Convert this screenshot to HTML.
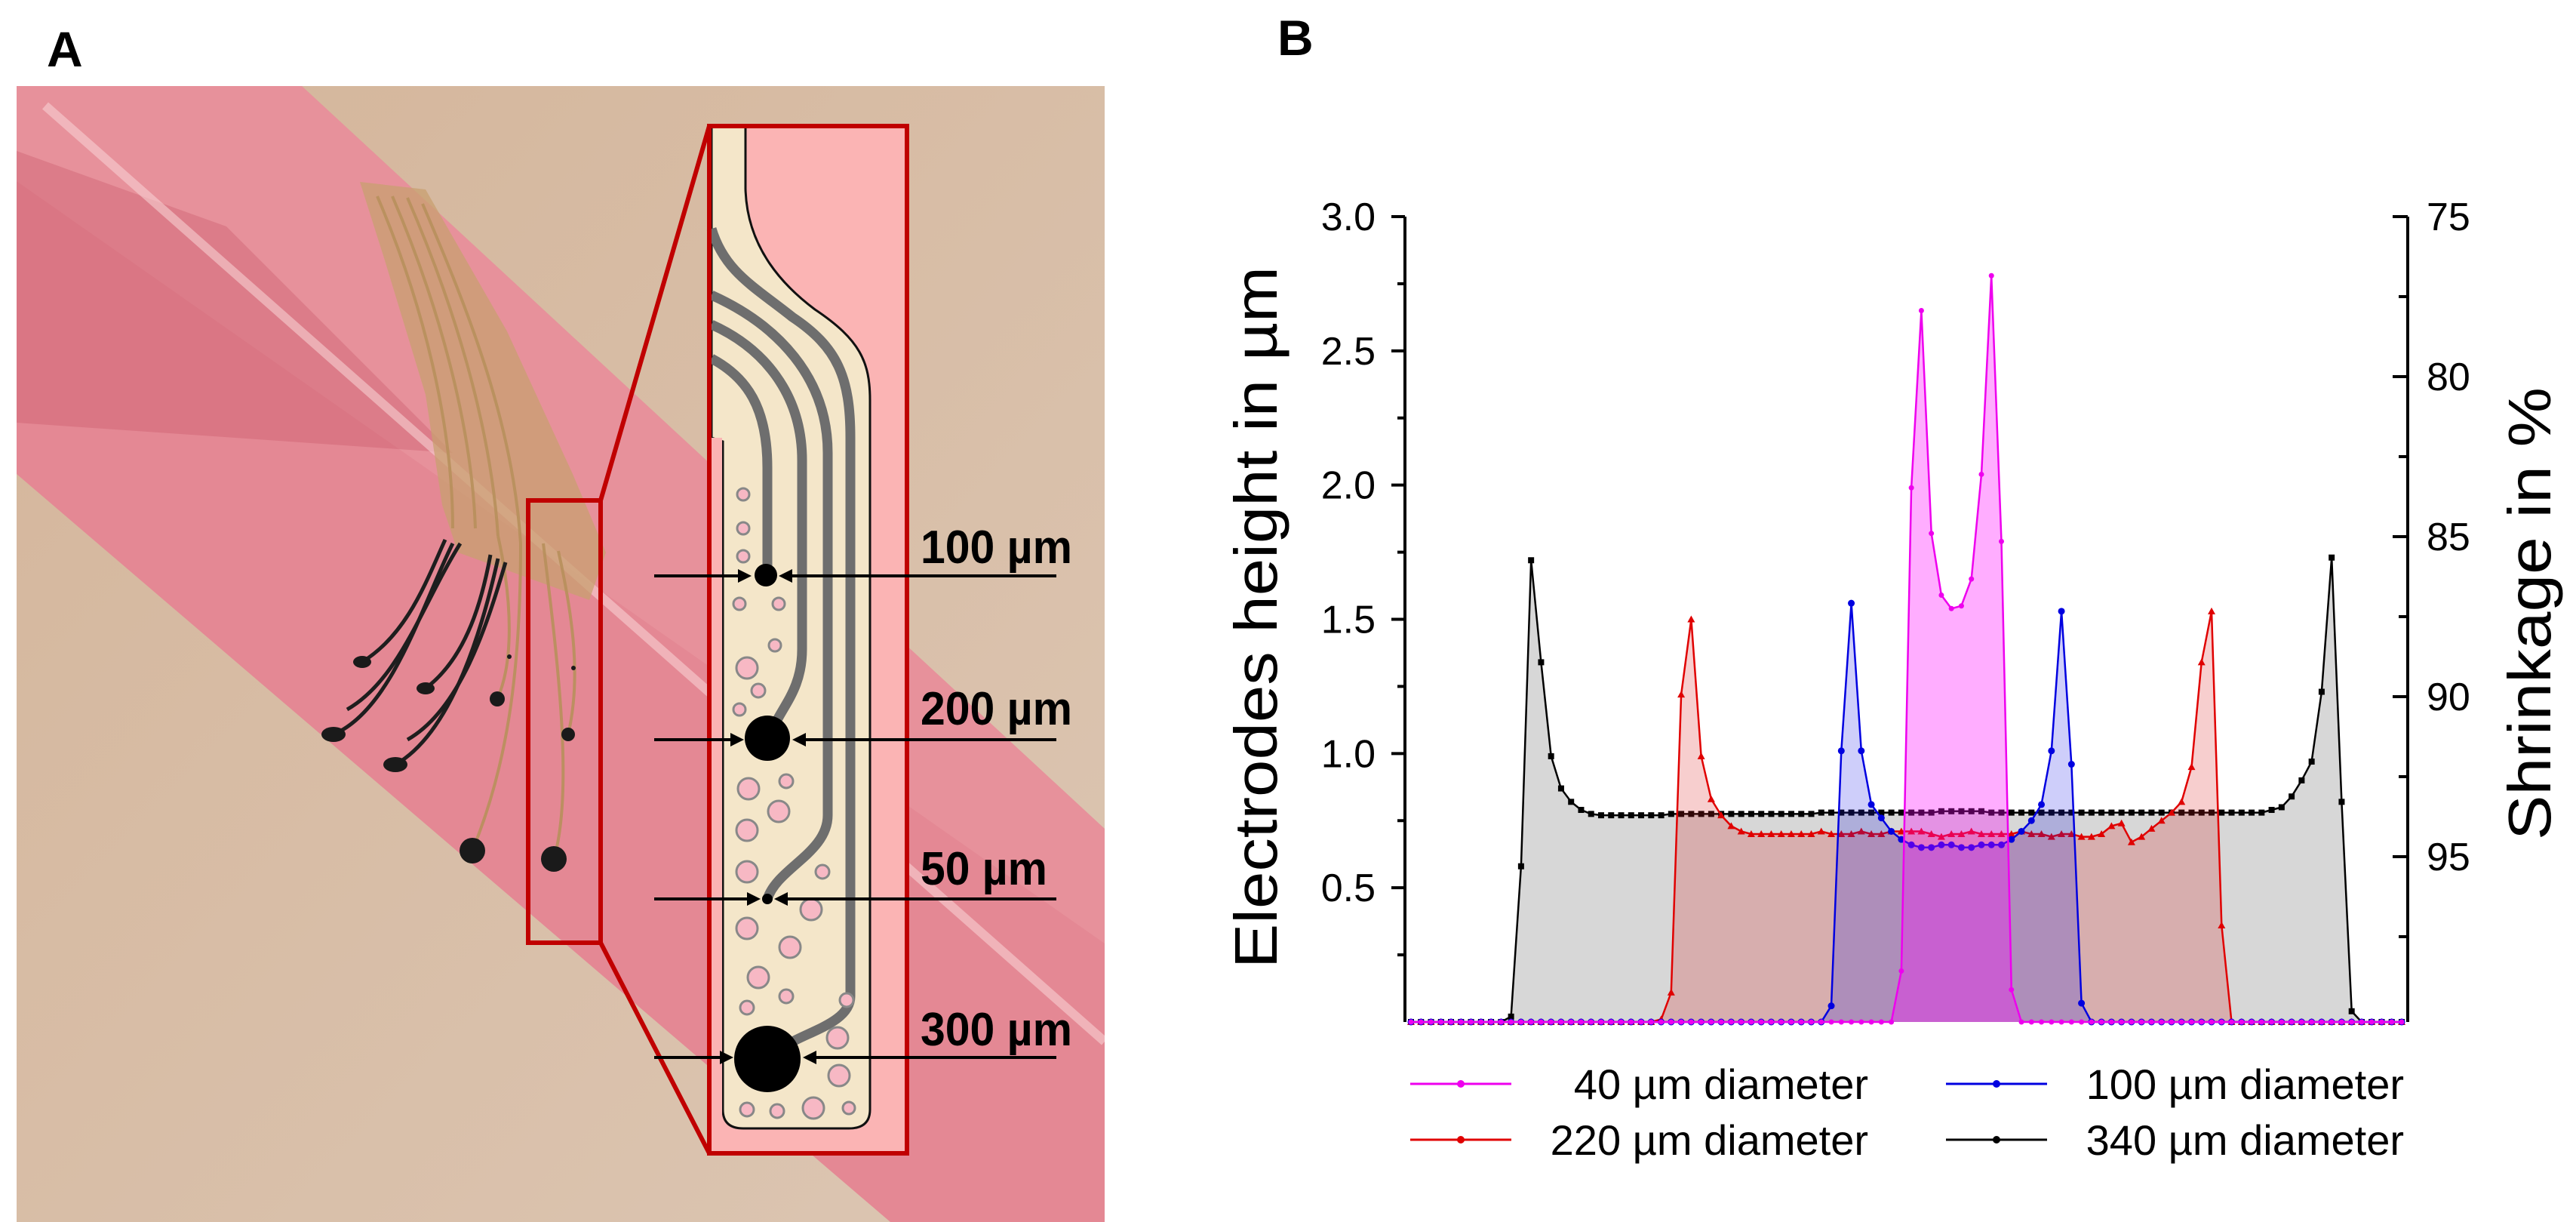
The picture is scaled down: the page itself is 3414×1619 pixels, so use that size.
<!DOCTYPE html>
<html><head><meta charset="utf-8">
<style>
html,body{margin:0;padding:0;background:#fff;}
svg{display:block;}
text{font-family:"Liberation Sans",Arial,sans-serif;}
</style></head>
<body>
<svg id="fig" width="3414" height="1619" viewBox="0 0 3414 1619" xmlns="http://www.w3.org/2000/svg">
<rect x="0" y="0" width="3414" height="1619" fill="#fff"/>
<!-- Panel A -->
<g>
  <text x="62" y="88" font-size="66" font-weight="bold">A</text>
  <defs>
    <linearGradient id="bg" x1="0" y1="0" x2="1" y2="1">
      <stop offset="0" stop-color="#d4b59a"/><stop offset="1" stop-color="#dcc6b3"/>
    </linearGradient>
    <linearGradient id="tube" x1="0" y1="0" x2="0.6" y2="-0.3" gradientUnits="objectBoundingBox">
      <stop offset="0" stop-color="#d4687a"/><stop offset="0.5" stop-color="#e68c98"/>
      <stop offset="1" stop-color="#efb0b2"/>
    </linearGradient>
    <clipPath id="photoclip"><rect x="22" y="114" width="1442" height="1505"/></clipPath>
  </defs>
  <g clip-path="url(#photoclip)">
    <rect x="22" y="114" width="1442" height="1505" fill="url(#bg)"/>
    <polygon points="22,114 400,114 1464,1098 1464,1619 1180,1619 22,628" fill="#e48894"/>
    <polygon points="22,114 400,114 1464,1098 1464,1250 22,240" fill="#eea2aa" opacity="0.35"/>
    <polygon points="22,200 300,300 600,600 22,560" fill="#c85568" opacity="0.35"/>
    <path d="M60,140 L1464,1380" stroke="#f8d0d2" stroke-width="12" opacity="0.6"/>
    <!-- ribbon -->
    <polygon points="477,241 564,251 672,439 759,628 803,732 781,795 607,732 586,669 564,523 510,345" fill="#c8a070" opacity="0.75"/>
    <g stroke="#b8905c" stroke-width="4" fill="none" opacity="0.9">
      <path d="M500,260 C560,400 600,560 600,700"/>
      <path d="M520,260 C580,400 625,560 630,700"/>
      <path d="M540,262 C600,400 650,560 660,710"/>
      <path d="M560,270 C620,410 680,560 690,720"/>
      <path d="M690,720 C690,900 670,1020 626,1127"/>
      <path d="M720,720 C740,880 760,1050 734,1138"/>
      <path d="M660,710 C680,800 680,880 659,926"/>
      <path d="M740,730 C760,820 770,900 753,973"/>
    </g>
    <g stroke="#1e1e1e" stroke-width="5" fill="none">
      <path d="M442,973 C520,940 560,800 600,720"/>
      <path d="M480,877 C540,840 565,770 590,715"/>
      <path d="M460,940 C530,900 560,800 610,720"/>
      <path d="M524,1013 C600,970 640,830 660,740"/>
      <path d="M564,912 C620,870 640,790 650,735"/>
      <path d="M540,980 C610,940 645,830 670,745"/>
    </g>
    <g fill="#1a1a1a">
      <ellipse cx="442" cy="973" rx="16" ry="10"/><ellipse cx="524" cy="1013" rx="16" ry="10"/>
      <ellipse cx="480" cy="877" rx="12" ry="8"/><ellipse cx="564" cy="912" rx="12" ry="8"/>
      <circle cx="659" cy="926" r="10"/><circle cx="753" cy="973" r="9"/>
      <circle cx="626" cy="1127" r="17"/><circle cx="734" cy="1138" r="17"/>
      <circle cx="675" cy="870" r="3"/><circle cx="760" cy="885" r="3"/>
    </g>
  </g>
  <!-- zoom box and connectors -->
  <rect x="700" y="663" width="96" height="586" fill="none" stroke="#c00000" stroke-width="6"/>
  <path d="M796,663 L940,167 M796,1249 L940,1528" stroke="#c00000" stroke-width="6" fill="none"/>
  <g>
    <rect x="940" y="167" width="262" height="1361" fill="#fbb4b4"/>
    <path d="M943,167 L988,167 L988,250 C990,330 1040,380 1080,410 C1140,450 1153,480 1153,530 L1153,1470 Q1153,1495 1125,1495 L985,1495 Q958,1495 958,1470 L958,585 L943,580 Z" fill="#f4e6c9" stroke="#111" stroke-width="3"/>
    <rect x="941" y="580" width="16" height="948" fill="#fbb4b4"/>
    <g stroke="#6e6e6e" stroke-width="13" fill="none">
      <path d="M943,475 C990,500 1017,540 1017,620 L1017,760"/>
      <path d="M943,430 C1010,460 1063,520 1063,610 L1063,860 C1063,920 1030,940 1020,978"/>
      <path d="M943,391 C1030,430 1097,500 1097,600 L1097,1080 C1097,1130 1030,1150 1017,1191"/>
      <path d="M943,303 C960,360 1000,380 1050,420 C1110,460 1127,500 1127,580 L1127,1320 C1127,1360 1050,1370 1030,1395"/>
    </g>
    <g fill="#f7b8c4" stroke="#888" stroke-width="3">
      <circle cx="985" cy="655" r="8"/><circle cx="985" cy="700" r="8"/><circle cx="985" cy="737" r="8"/>
      <circle cx="980" cy="800" r="8"/><circle cx="1032" cy="800" r="8"/><circle cx="1027" cy="855" r="8"/>
      <circle cx="990" cy="885" r="14"/><circle cx="1005" cy="915" r="9"/><circle cx="980" cy="940" r="8"/>
      <circle cx="992" cy="1045" r="14"/><circle cx="1042" cy="1035" r="9"/><circle cx="1032" cy="1075" r="14"/>
      <circle cx="990" cy="1100" r="14"/><circle cx="990" cy="1155" r="14"/><circle cx="1090" cy="1155" r="9"/>
      <circle cx="1075" cy="1205" r="14"/><circle cx="990" cy="1230" r="14"/><circle cx="1047" cy="1255" r="14"/>
      <circle cx="1005" cy="1295" r="14"/><circle cx="1042" cy="1320" r="9"/><circle cx="990" cy="1335" r="9"/>
      <circle cx="1122" cy="1325" r="9"/><circle cx="1110" cy="1375" r="14"/><circle cx="1112" cy="1425" r="14"/>
      <circle cx="990" cy="1470" r="9"/><circle cx="1030" cy="1472" r="9"/><circle cx="1078" cy="1468" r="14"/><circle cx="1125" cy="1468" r="8"/>
    </g>
    <g fill="#000">
      <circle cx="1015" cy="762" r="15"/><circle cx="1017" cy="978" r="30"/>
      <circle cx="1017" cy="1191" r="7"/><circle cx="1017" cy="1403" r="44"/>
    </g>
    <rect x="940" y="167" width="262" height="1361" fill="none" stroke="#c00000" stroke-width="6"/>
  </g>
  <g font-size="62" font-weight="bold">
    <g stroke="#000" stroke-width="4" fill="none">
      <path d="M867,763 L982,763 M1400,763 L1046,763"/>
      <path d="M867,980 L972,980 M1400,980 L1064,980"/>
      <path d="M867,1191 L1000,1191 M1400,1191 L1038,1191"/>
      <path d="M867,1401 L958,1401 M1400,1401 L1080,1401"/>
    </g>
    <g fill="#000">
      <path d="M996,763 l-18,-9 v18z M1032,763 l18,-9 v18z"/>
      <path d="M986,980 l-18,-9 v18z M1050,980 l18,-9 v18z"/>
      <path d="M1008,1191 l-18,-9 v18z M1026,1191 l18,-9 v18z"/>
      <path d="M972,1401 l-18,-9 v18z M1064,1401 l18,-9 v18z"/>
    </g>
    <text x="1220" y="746" textLength="201" lengthAdjust="spacingAndGlyphs">100 µm</text>
    <text x="1220" y="960" textLength="201" lengthAdjust="spacingAndGlyphs">200 µm</text>
    <text x="1220" y="1172" textLength="168" lengthAdjust="spacingAndGlyphs">50 µm</text>
    <text x="1220" y="1385" textLength="201" lengthAdjust="spacingAndGlyphs">300 µm</text>
  </g>
</g>
<!-- Panel B -->
<text x="1693" y="73" font-size="66" font-weight="bold">B</text>
<g id="chart"></g>
</svg>
<script>
const yTickValues = [0.5, 1.0, 1.5, 2.0, 2.5, 3.0];
const yTickLabels = ["0.5", "1.0", "1.5", "2.0", "2.5", "3.0"];
const y2TickValues = [75, 80, 85, 90, 95];
const y2TickLabels = ["75", "80", "85", "90", "95"];
const seriesNames = ["40 µm diameter", "100 µm diameter", "220 µm diameter", "340 µm diameter"];
const xPositions = Array.from({length: 100}, (_, i) => i);
const d40 = [0,0,0,0,0,0,0,0,0,0, 0,0,0,0,0,0,0,0,0,0, 0,0,0,0,0,0,0,0,0,0, 0,0,0,0,0,0,0,0,0,0,
  0,0,0,0,0,0,0,0,0,0.19, 1.99,2.65,1.82,1.59,1.54,1.55,1.65,2.04,2.78,1.79,
  0.12,0,0,0,0,0,0,0,0,0, 0,0,0,0,0,0,0,0,0,0, 0,0,0,0,0,0,0,0,0,0, 0,0,0,0,0,0,0,0,0,0];
const d100 = [0,0,0,0,0,0,0,0,0,0, 0,0,0,0,0,0,0,0,0,0, 0,0,0,0,0,0,0,0,0,0, 0,0,0,0,0,0,0,0,0,0,
  0,0,0.06,1.01,1.56,1.01,0.81,0.76,0.71,0.68, 0.66,0.65,0.65,0.66,0.66,0.65,0.65,0.66,0.66,0.66,
  0.68,0.71,0.75,0.81,1.01,1.53,0.96,0.07,0,0, 0,0,0,0,0,0,0,0,0,0, 0,0,0,0,0,0,0,0,0,0, 0,0,0,0,0,0,0,0,0,0];
const d220 = [0,0,0,0,0,0,0,0,0,0, 0,0,0,0,0,0,0,0,0,0, 0,0,0,0,0,0.01,0.11,1.22,1.50,0.99,
  0.83,0.77,0.73,0.71,0.70,0.70,0.70,0.70,0.70,0.70, 0.70,0.71,0.70,0.70,0.70,0.71,0.70,0.70,0.71,0.71,
  0.71,0.71,0.70,0.69,0.70,0.70,0.71,0.70,0.70,0.70, 0.70,0.71,0.70,0.70,0.69,0.70,0.70,0.69,0.69,0.70,
  0.73,0.74,0.67,0.69,0.72,0.75,0.78,0.82,0.95,1.34, 1.53,0.36,0,0,0,0,0,0,0,0, 0,0,0,0,0,0,0,0,0,0];
const d340 = [0,0,0,0,0,0,0,0,0,0, 0.02,0.58,1.72,1.34,0.99,0.87,0.82,0.79,0.775,0.77,
  0.77,0.77,0.77,0.77,0.77,0.77,0.775,0.775,0.775,0.775, 0.775,0.775,0.775,0.775,0.775,0.775,0.775,0.775,0.775,0.775,
  0.775,0.78,0.78,0.78,0.78,0.78,0.78,0.78,0.78,0.78, 0.78,0.78,0.78,0.785,0.785,0.785,0.785,0.785,0.78,0.78,
  0.78,0.78,0.78,0.78,0.78,0.78,0.78,0.78,0.78,0.78, 0.78,0.78,0.78,0.78,0.78,0.78,0.78,0.78,0.78,0.78,
  0.78,0.78,0.78,0.78,0.78,0.78,0.79,0.80,0.84,0.90, 0.97,1.23,1.73,0.82,0.04,0,0,0,0,0];

const NS = "http://www.w3.org/2000/svg";
const X0 = 1862, X1 = 3191, YTOP = 287, YBOT = 1354;
const yScale = v => YBOT - v * (YBOT - YTOP) / 3.0;
const y2Scale = v => 287 + (v - 75) * 42.4;
const xScale = i => X0 + 8 + i * (X1 - X0 - 16) / 99;
const chart = document.getElementById("chart");
function mk(tag, attrs, parent) {
  const e = document.createElementNS(NS, tag);
  for (const k in attrs) e.setAttribute(k, attrs[k]);
  (parent || chart).appendChild(e);
  return e;
}
const series = [
  {data: d340, line: "#000000", fill: "rgba(140,140,140,0.35)", marker: "square", name: "series-340um"},
  {data: d220, line: "#e00000", fill: "rgba(220,30,30,0.22)", marker: "triangle", name: "series-220um"},
  {data: d100, line: "#0000e0", fill: "rgba(30,30,230,0.22)", marker: "circle", name: "series-100um"},
  {data: d40, line: "#ee00ee", fill: "rgba(255,0,255,0.32)", marker: "star", name: "series-40um"}
];
series.forEach(s => {
  const g = mk("g", {});
  
  
  let pts = xPositions.map((x, i) => xScale(x).toFixed(1) + "," + yScale(s.data[i]).toFixed(1));
  const area = mk("path", {d: "M" + xScale(xPositions[0]) + "," + YBOT + " L" + pts.join(" L") + " L" + xScale(xPositions[xPositions.length-1]) + "," + YBOT + " Z", fill: s.fill, stroke: "none"}, g);
  
  
  const line = mk("polyline", {points: pts.join(" "), fill: "none", stroke: s.line, "stroke-width": 2.5}, g);
  
  
  xPositions.forEach((x, i) => {
    const cx = xScale(x), cy = yScale(s.data[i]);
    let m;
    if (s.marker === "square") m = mk("rect", {x: cx-4, y: cy-4, width: 8, height: 8, fill: s.line}, g);
    else if (s.marker === "triangle") m = mk("path", {d: `M${cx},${cy-5} L${cx+5},${cy+4} L${cx-5},${cy+4} Z`, fill: s.line}, g);
    else if (s.marker === "circle") m = mk("circle", {cx: cx, cy: cy, r: 4.5, fill: s.line}, g);
    else m = mk("circle", {cx: cx, cy: cy, r: 3.5, fill: s.line}, g);
    
    
  });
});
// axes
const ax = mk("g", {stroke: "#000", "stroke-width": 4, fill: "none"});


mk("line", {x1: X0, y1: YTOP, x2: X0, y2: YBOT}, ax);
mk("line", {x1: X1, y1: YTOP, x2: X1, y2: YBOT}, ax);
for (let v = 0.25; v <= 3.0001; v += 0.25) {
  const major = Math.abs(v*2 - Math.round(v*2)) < 1e-6;
  mk("line", {x1: X0 - (major ? 18 : 10), y1: yScale(v), x2: X0, y2: yScale(v)}, ax);
}
for (let v = 75; v <= 97.5; v += 2.5) {
  const major = v % 5 === 0;
  mk("line", {x1: X1 - (major ? 20 : 12), y1: y2Scale(v), x2: X1, y2: y2Scale(v)}, ax);
}
yTickValues.forEach((v, i) => {
  const t = mk("text", {x: 1823, y: yScale(v) + 18, "font-size": 52, "text-anchor": "end"});
  t.textContent = yTickLabels[i];
  
  
});
y2TickValues.forEach((v, i) => {
  const t = mk("text", {x: 3216, y: y2Scale(v) + 18, "font-size": 52});
  t.textContent = y2TickLabels[i];
  
  
});
const yt = mk("text", {x: 0, y: 0, "font-size": 80, "text-anchor": "middle", transform: "translate(1692,818) rotate(-90)", textLength: 930, lengthAdjust: "spacingAndGlyphs"});
yt.textContent = "Electrodes height in µm";


const y2t = mk("text", {x: 0, y: 0, "font-size": 80, "text-anchor": "middle", transform: "translate(3380,813) rotate(-90)", textLength: 600, lengthAdjust: "spacingAndGlyphs"});
y2t.textContent = "Shrinkage in %";


// legend
const legendCols = [{lx: 1869, tx: 2476}, {lx: 2579, tx: 3186}];
const legendRows = [1436, 1510];
const legendMap = {0: 3, 1: 2, 2: 1, 3: 0};
const legendNames = [[0, 1], [2, 3]];
legendNames.forEach((row, r) => row.forEach((ni, c) => {
  const s = series[legendMap[ni]];
  const g = mk("g", {});
  
  
  const y = legendRows[r];
  mk("line", {x1: legendCols[c].lx, y1: y, x2: legendCols[c].lx + 134, y2: y, stroke: s.line, "stroke-width": 3}, g);
  mk("circle", {cx: legendCols[c].lx + 67, cy: y, r: 5, fill: s.line}, g);
  const t = mk("text", {x: legendCols[c].tx, y: y + 20, "font-size": 56, "text-anchor": "end"}, g);
  t.textContent = seriesNames[ni];
}));
</script>
</body></html>
